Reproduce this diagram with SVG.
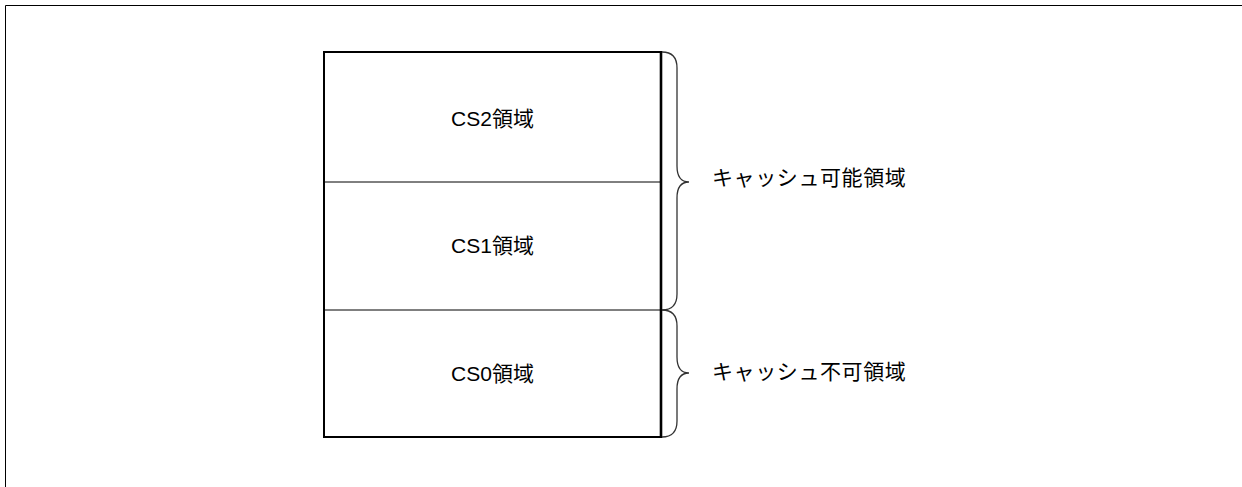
<svg xmlns="http://www.w3.org/2000/svg" width="1242" height="487" viewBox="0 0 1242 487">
<style>
.lbl{font-family:"Liberation Sans","Noto Sans CJK JP",sans-serif;font-size:21px;fill:#000}
.rl{font-family:"Liberation Sans","Noto Sans CJK JP",sans-serif;font-size:21px;fill:#000;letter-spacing:0.6px}
.brace{fill:none;stroke:#333;stroke-width:1.3}
</style>
<rect width="1242" height="487" fill="#fff"/>
<path d="M5.5,487 V5.5 H1242" fill="none" stroke="#000" stroke-width="1"/>
<g id="cs2">
<text class="lbl" x="492.5" y="126" text-anchor="middle">CS2領域</text>
</g>
<g id="cs1">
<text class="lbl" x="492.5" y="253" text-anchor="middle">CS1領域</text>
</g>
<g id="cs0">
<text class="lbl" x="492.5" y="381" text-anchor="middle">CS0領域</text>
</g>
<g id="box">
<line x1="324" y1="182" x2="661" y2="182" stroke="#000" stroke-width="1"/>
<line x1="324" y1="310" x2="661" y2="310" stroke="#000" stroke-width="1"/>
<rect x="324" y="52" width="337" height="385" fill="none" stroke="#000" stroke-width="2"/>
<line x1="661" y1="51" x2="661" y2="438" stroke="#000" stroke-width="2.6"/>
</g>
<g id="connectors">
<path class="brace" d="M662,52 C672,52 677,58 677,68 V166 C677,176 681,182 689,182 C681,182 677,188 677,198 V294 C677,304 672,310 662,310"/>
<path class="brace" d="M662,310 C672,310 677,316 677,326 V357 C677,367 681,373 689,373 C681,373 677,379 677,389 V421 C677,431 672,437 662,437"/>
</g>
<g id="label-cacheable">
<text class="rl" x="712" y="185">キャッシュ可能領域</text>
</g>
<g id="label-noncacheable">
<text class="rl" x="712" y="379">キャッシュ不可領域</text>
</g>
</svg>
